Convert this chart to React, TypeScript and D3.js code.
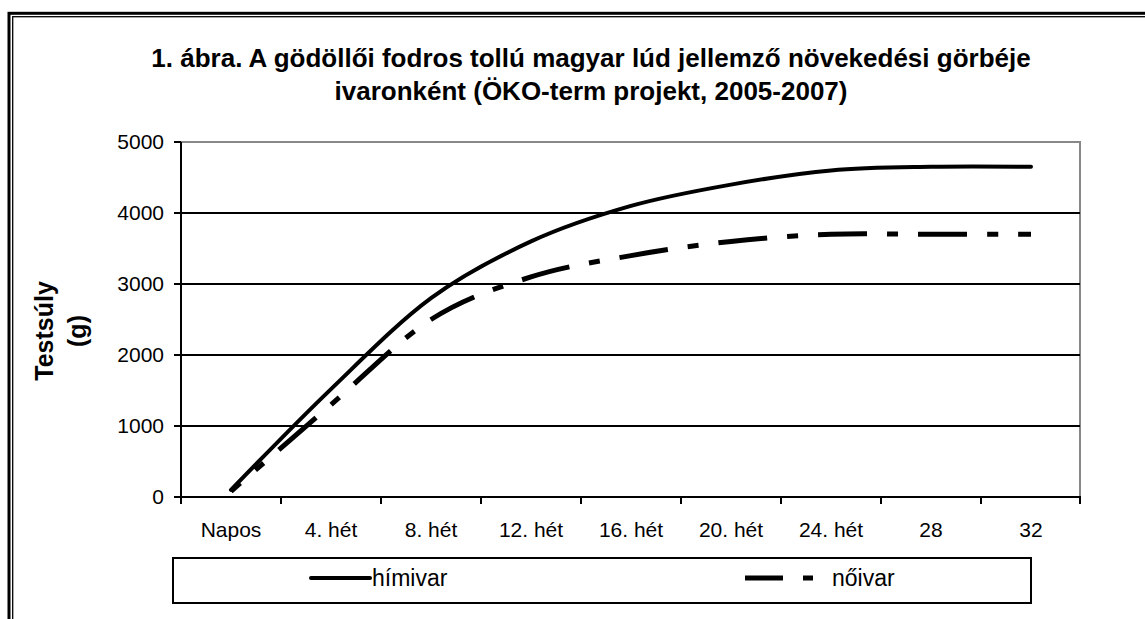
import { useLayoutEffect, useRef } from 'react';
import * as d3 from 'd3';

const categories = ['Napos', '4. hét', '8. hét', '12. hét', '16. hét', '20. hét', '24. hét', '28', '32'];
const himivar = [100, 1520, 2800, 3600, 4100, 4400, 4600, 4650, 4650];
const noivar = [80, 1300, 2500, 3100, 3400, 3600, 3700, 3700, 3700];
const yTicks = [0, 1000, 2000, 3000, 4000, 5000];
const titleLines = [
  '1. ábra. A gödöllői fodros tollú magyar lúd jellemző növekedési görbéje',
  'ivaronként (ÖKO-term projekt, 2005-2007)',
];

const W = 1145;
const H = 619;
const left = 181;
const right = 1081;
const top = 142;
const bottom = 497;
const font = 'Arial, "Liberation Sans", sans-serif';

export default function App() {
  const dashRef = useRef<SVGPathElement>(null);

  const x = d3.scaleBand().domain(categories).range([left, right]);
  const y = d3.scaleLinear().domain([0, 5000]).range([bottom, top]);
  const cx = (c: string) => (x(c) ?? 0) + x.bandwidth() / 2;

  const line = d3
    .line<number>()
    .x((_, i) => cx(categories[i]))
    .y((d) => y(d))
    .curve(d3.curveCardinal.tension(0));

  // line the dash pattern up so a long dash starts near x = 818, like the original
  useLayoutEffect(() => {
    const p = dashRef.current;
    if (!p) return;
    const total = p.getTotalLength();
    let lo = 0;
    let hi = total;
    for (let k = 0; k < 40; k++) {
      const mid = (lo + hi) / 2;
      if (p.getPointAtLength(mid).x < 818) lo = mid;
      else hi = mid;
    }
    const off = (100 - (lo % 100)) % 100;
    p.setAttribute('stroke-dashoffset', String(off));
  }, []);

  return (
    <svg width={W} height={H} style={{ position: 'absolute', left: 0, top: 0, background: '#fff' }}>
      {/* outer double frame */}
      <rect x={9} y={13.3} width={W + 20} height={H + 20} fill="none" stroke="#000" strokeWidth={3} />
      <rect x={12.7} y={16.7} width={W + 20} height={H + 20} fill="none" stroke="#000" strokeWidth={1.3} />

      {titleLines.map((t, i) => (
        <text key={i} x={591} y={67 + i * 33} textAnchor="middle" fontFamily={font} fontWeight="bold" fontSize={26}>
          {t}
        </text>
      ))}

      {/* plot border */}
      <line x1={left} x2={right} y1={top} y2={top} stroke="#888" strokeWidth={2} />
      <line x1={right - 1} x2={right - 1} y1={top} y2={bottom} stroke="#888" strokeWidth={2} />

      {yTicks.filter((t) => t > 0 && t < 5000).map((t) => (
        <line key={t} x1={left} x2={right - 1} y1={y(t)} y2={y(t)} stroke="#000" strokeWidth={2} />
      ))}

      {/* y axis */}
      <line x1={left} x2={left} y1={top} y2={bottom} stroke="#000" strokeWidth={2} />
      {yTicks.map((t) => (
        <g key={t}>
          <line x1={left - 7} x2={left} y1={y(t)} y2={y(t)} stroke="#000" strokeWidth={2} />
          <text x={164} y={y(t)} dy="0.35em" textAnchor="end" fontFamily={font} fontSize={21}>
            {t}
          </text>
        </g>
      ))}

      {/* x axis */}
      <line x1={left} x2={right} y1={bottom} y2={bottom} stroke="#000" strokeWidth={2} />
      {categories.map((c) => (
        <line key={'t' + c} x1={x(c)} x2={x(c)} y1={bottom} y2={bottom + 7} stroke="#000" strokeWidth={2} />
      ))}
      <line x1={right - 1} x2={right - 1} y1={bottom} y2={bottom + 7} stroke="#000" strokeWidth={2} />
      {categories.map((c) => (
        <text key={c} x={cx(c)} y={530} dy="0.35em" textAnchor="middle" fontFamily={font} fontSize={21}>
          {c}
        </text>
      ))}

      {/* y axis title */}
      <text transform="translate(53,331) rotate(-90)" textAnchor="middle" fontFamily={font} fontWeight="bold" fontSize={25}>
        Testsúly
      </text>
      <text transform="translate(86,331) rotate(-90)" textAnchor="middle" fontFamily={font} fontWeight="bold" fontSize={25}>
        (g)
      </text>

      {/* series */}
      <path ref={dashRef} d={line(noivar) ?? ''} fill="none" stroke="#000" strokeWidth={5} strokeDasharray="49 20 11 20" />
      <path d={line(himivar) ?? ''} fill="none" stroke="#000" strokeWidth={4} strokeLinecap="round" />

      {/* legend */}
      <rect x={173} y={558} width={858} height={45} fill="#fff" stroke="#000" strokeWidth={2} />
      <line x1={311} x2={370} y1={578} y2={578} stroke="#000" strokeWidth={4} strokeLinecap="round" />
      <text x={372} y={578} dy="0.35em" fontFamily={font} fontSize={23}>
        hímivar
      </text>
      <line x1={745} x2={813} y1={578} y2={578} stroke="#000" strokeWidth={5} strokeDasharray="38 20 10 20" />
      <text x={832} y={578} dy="0.35em" fontFamily={font} fontSize={23}>
        nőivar
      </text>
    </svg>
  );
}
